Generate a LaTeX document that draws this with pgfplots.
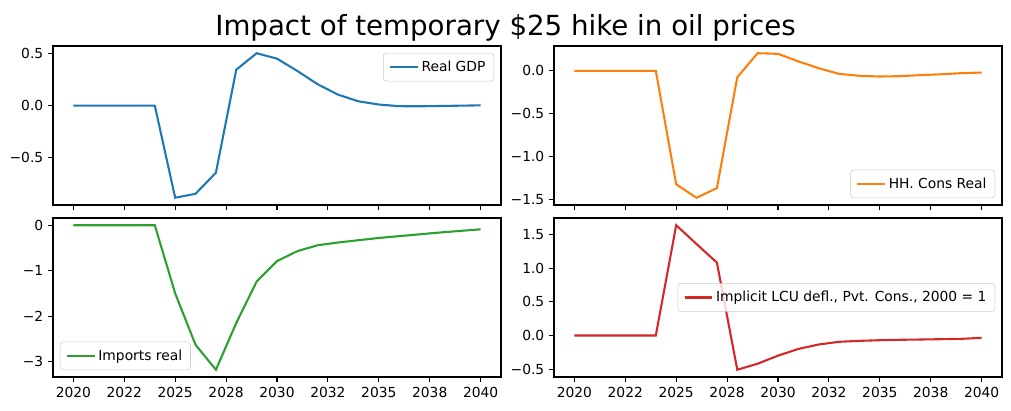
\documentclass[border=0pt]{standalone}
\usepackage{fontspec}
\setmainfont{DejaVu Sans}
\usepackage{pgfplots}
\pgfplotsset{compat=1.18}
\definecolor{cA}{HTML}{1F77B4}
\definecolor{cB}{HTML}{FF7F0E}
\definecolor{cC}{HTML}{2CA02C}
\definecolor{cD}{HTML}{D62728}
\pgfplotsset{
  mpl/.style={
    width=322.56bp, height=114.48bp, scale only axis,
    xmin=2019, xmax=2041,
    xtick={2020,2022.5,2025,2027.5,2030,2032.5,2035,2037.5,2040},
    tick align=outside, major tick length=3.5bp,
    xtick pos=lower, ytick pos=left,
    tick style={black, line width=0.8bp},
    axis line style={line width=0.8bp},
    ticklabel style={font=\fontsize{10}{12}\selectfont},
    legend cell align=left,
    legend image code/.code={\draw[##1, line width=1.5bp] (0bp,0bp) -- (20bp,0bp);},
    legend style={font=\fontsize{10}{12}\selectfont, draw=white!80!black, rounded corners=2bp,
      fill=white, fill opacity=0.8, text opacity=1, inner xsep=4bp, inner ysep=3.5bp,
      /tikz/every even column/.append style={column sep=2bp}},
    every axis plot/.append style={line width=1.5bp},
  },
  nolab/.style={xticklabels={}},
  lab/.style={xticklabels={2020,2022,2025,2028,2030,2032,2035,2038,2040}},
}
\begin{document}
\begin{tikzpicture}
\path[use as bounding box] (0,0) rectangle (727.92bp,295.92bp);
\node[anchor=base, font=\fontsize{20}{24}\selectfont] at (363.96bp,270.7bp) {Impact of temporary \$25 hike in oil prices};
% top left
\begin{axis}[mpl, nolab, at={(38.16bp,148.32bp)}, anchor=south west,
  ymin=-0.957, ymax=0.575, ytick={-0.5,0,0.5}, yticklabels={−0.5,0.0,0.5},
  legend style={at={(1,1)}, anchor=north east, xshift=-5bp, yshift=-5bp}]
\addplot[cA] coordinates {(2020,0)(2021,0)(2022,0)(2023,0)(2024,0)(2025,-0.887)(2026,-0.849)(2027,-0.646)(2028,0.347)(2029,0.505)(2030,0.453)(2031,0.334)(2032,0.206)(2033,0.106)(2034,0.042)(2035,0.011)(2036,-0.005)(2037,-0.006)(2038,-0.003)(2039,0.0)(2040,0.003)};
\addlegendentry{Real GDP}
\end{axis}
% top right
\begin{axis}[mpl, nolab, at={(398.88bp,148.32bp)}, anchor=south west,
  ymin=-1.561, ymax=0.289, ytick={-1.5,-1,-0.5,0}, yticklabels={−1.5,−1.0,−0.5,0.0},
  legend style={at={(1,0)}, anchor=south east, xshift=-5bp, yshift=5bp}]
\addplot[cB] coordinates {(2020,0)(2021,0)(2022,0)(2023,0)(2024,0)(2025,-1.32)(2026,-1.477)(2027,-1.364)(2028,-0.074)(2029,0.205)(2030,0.198)(2031,0.11)(2032,0.03)(2033,-0.035)(2034,-0.058)(2035,-0.066)(2036,-0.062)(2037,-0.05)(2038,-0.04)(2039,-0.027)(2040,-0.02)};
\addlegendentry{HH. Cons Real}
\end{axis}
% bottom left
\begin{axis}[mpl, lab, at={(38.16bp,24.48bp)}, anchor=south west,
  ymin=-3.339, ymax=0.159, ytick={-3,-2,-1,0}, yticklabels={−3,−2,−1,0},
  legend style={at={(0,0)}, anchor=south west, xshift=5bp, yshift=5bp}]
\addplot[cC] coordinates {(2020,0)(2021,0)(2022,0)(2023,0)(2024,0)(2025,-1.50)(2026,-2.63)(2027,-3.18)(2028,-2.15)(2029,-1.24)(2030,-0.79)(2031,-0.57)(2032,-0.44)(2033,-0.38)(2034,-0.33)(2035,-0.28)(2036,-0.24)(2037,-0.20)(2038,-0.16)(2039,-0.125)(2040,-0.09)};
\addlegendentry{Imports real}
\end{axis}
% bottom right
\begin{axis}[mpl, lab, at={(398.88bp,24.48bp)}, anchor=south west,
  ymin=-0.6175, ymax=1.7475, ytick={-0.5,0,0.5,1,1.5}, yticklabels={−0.5,0.0,0.5,1.0,1.5},
  legend style={at={(1,0.5)}, anchor=east, xshift=-5bp}]
\addplot[cD] coordinates {(2020,0)(2021,0)(2022,0)(2023,0)(2024,0)(2025,1.64)(2026,1.36)(2027,1.084)(2028,-0.51)(2029,-0.42)(2030,-0.30)(2031,-0.20)(2032,-0.134)(2033,-0.094)(2034,-0.08)(2035,-0.07)(2036,-0.064)(2037,-0.06)(2038,-0.055)(2039,-0.05)(2040,-0.035)};
\addlegendentry{Implicit LCU defl., Pvt. Cons., 2000 = 1}
\end{axis}
\end{tikzpicture}
\end{document}
